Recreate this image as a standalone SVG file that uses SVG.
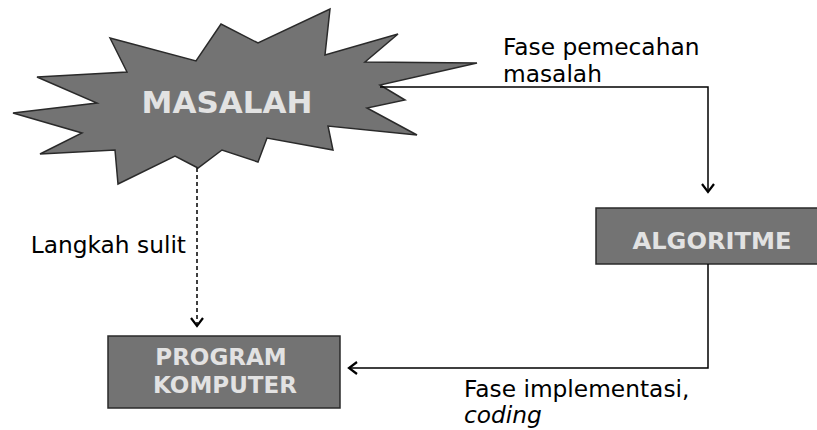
<svg xmlns="http://www.w3.org/2000/svg" width="817" height="430" viewBox="0 0 817 430">
<style>
.shape{fill:#737373;stroke:#2a2a2a;stroke-width:1.5}
.lbl{font-family:"DejaVu Sans",Verdana,sans-serif;font-weight:bold;fill:#e2e2e2;text-anchor:middle}
.txt{font-family:"DejaVu Sans",Verdana,sans-serif;font-size:23.3px;fill:#000}
.con{fill:none;stroke:#000;stroke-width:1.5}
.head{fill:none;stroke:#000;stroke-width:2.2}
</style>
<rect width="817" height="430" fill="#fff"/>
<g id="masalah">
<polygon class="shape" points="110,38 196,61 221,24 258,43 330,9 325,55 398,34 365,62 477,63 380,85 405,100 367,108 417,135 328,126 333,150 267,138 258,162 222,150 198,168 175,156 118,184 115,150 40,154 82,133 13,113 97,103 37,77 127,72"/>
<text class="lbl" x="227" y="113" font-size="31">MASALAH</text>
</g>
<g id="algoritme">
<rect class="shape" x="596" y="208" width="230" height="56"/>
<text class="lbl" x="712" y="249" font-size="23" textLength="159" lengthAdjust="spacingAndGlyphs">ALGORITME</text>
</g>
<g id="program">
<rect class="shape" x="108" y="336" width="232" height="72"/>
<text class="lbl" x="221" y="365" font-size="23">PROGRAM</text>
<text class="lbl" x="225" y="393" font-size="23">KOMPUTER</text>
</g>
<g id="connectors">
<polyline class="con" points="380,87 708,87 708,192"/>
<polyline class="head" points="702,184 708,192 714,184"/>
<polyline class="con" points="708,264 708,368 349,368"/>
<polyline class="head" points="357,362 349,368 357,374"/>
<line class="con" x1="197" y1="168" x2="197" y2="326" stroke-dasharray="4,3"/>
<polyline class="head" points="191,318 197,326 203,318"/>
</g>
<g id="labels">
<text class="txt" x="503" y="55">Fase pemecahan</text>
<text class="txt" x="503" y="82">masalah</text>
<text class="txt" x="186" y="253" text-anchor="end">Langkah sulit</text>
<text class="txt" x="464" y="397">Fase implementasi,</text>
<text class="txt" x="464" y="423" font-style="italic">coding</text>
</g>
</svg>
